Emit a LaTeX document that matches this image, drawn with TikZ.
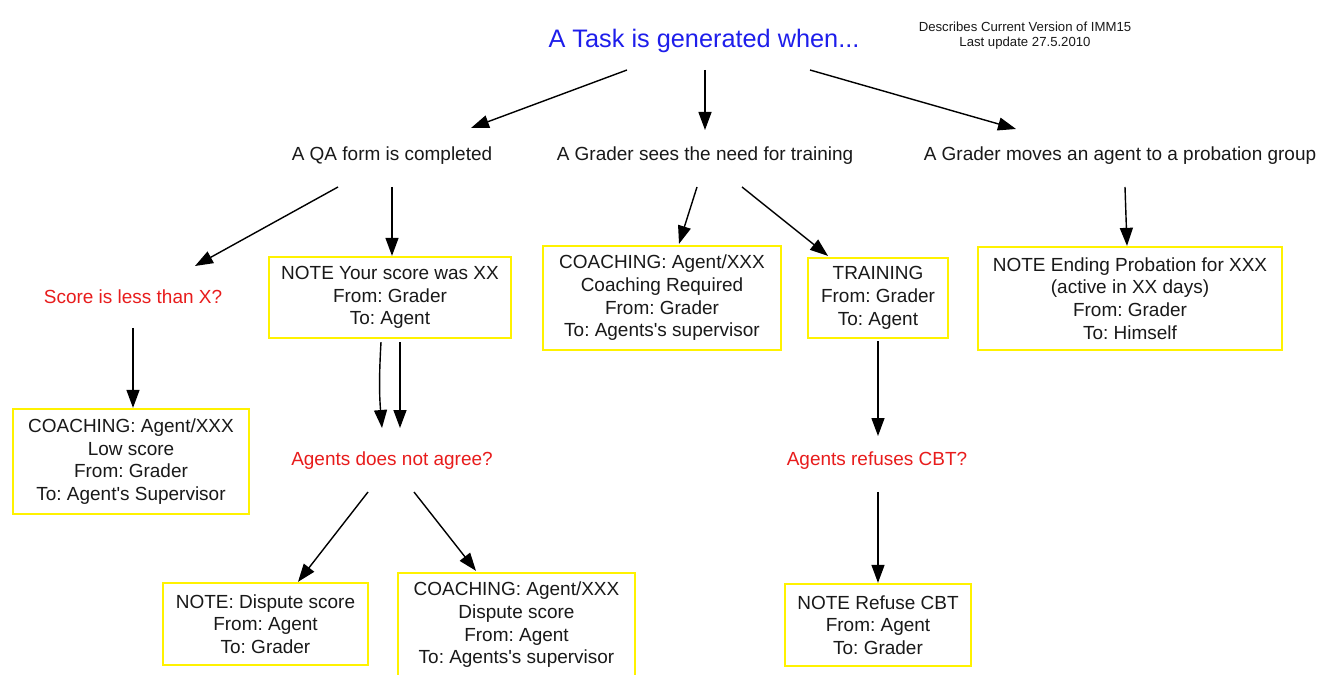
\documentclass[tikz,border=0pt]{standalone}
\usepackage{fontspec}
\setmainfont{Liberation Sans}
\usepackage{xcolor}
\usetikzlibrary{arrows.meta,calc}
\definecolor{qblue}{RGB}{30,30,235}
\definecolor{qred}{RGB}{232,28,28}
\definecolor{qyellow}{RGB}{255,242,0}
\frenchspacing

\begin{document}
\begin{tikzpicture}[x=0.02cm, y=-0.02cm, >={Triangle[length=0.36cm, width=0.26cm]},
  lbl/.style={font=\fontsize{10.8}{12.9}\selectfont, text=black!90, inner sep=1pt},
  qn/.style={lbl, text=qred},
  box/.style={rectangle, draw=qyellow, line width=1.3pt, fill=white, align=center, inner sep=2pt, text=black!90, font=\fontsize{10.8}{12.9}\selectfont},
  arr/.style={->, line width=0.8pt, black}]
\useasboundingbox[fill=white] (0,0) rectangle (1340,675);

\node[text=qblue, font=\fontsize{14.4}{17}\selectfont] (title) at (704,41) {A Task is generated when...};
\node[align=center, font=\fontsize{7.5}{8.6}\selectfont, text=black!90] (info) at (1025,36) {Describes Current Version of IMM15\\Last update 27.5.2010};

\node[lbl] (qa) at (392,156) {A QA form is completed};
\node[lbl] (grader) at (705,156) {A Grader sees the need for training};
\node[lbl] (prob) at (1120,156) {A Grader moves an agent to a probation group};

\node[qn] (score) at (133,297) {Score is less than X?};
\node[box, minimum width=4.84cm, minimum height=1.62cm] (note) at (390,297.5) {NOTE Your score was XX\\From: Grader\\To: Agent};
\node[box, minimum width=4.76cm, minimum height=2.08cm] (coach) at (662,298) {COACHING: Agent/XXX\\Coaching Required\\From: Grader\\To: Agents\textquotesingle s supervisor};
\node[box, minimum width=2.8cm, minimum height=1.6cm] (train) at (878,298) {TRAINING\\From: Grader\\To: Agent};
\node[box, minimum width=6.08cm, minimum height=2.06cm] (ending) at (1130,298.5) {NOTE Ending Probation for XXX\\(active in XX days)\\From: Grader\\To: Himself};

\node[box, minimum width=4.72cm, minimum height=2.1cm] (low) at (131,461.5) {COACHING: Agent/XXX\\Low score\\From: Grader\\To: Agent\textquotesingle s Supervisor};
\node[qn] (disagree) at (392,461) {Agents does not agree?};
\node[qn] (refuse) at (877,461) {Agents refuses CBT?};

\node[box, minimum width=4.1cm, minimum height=1.64cm] (dispn) at (265.5,624) {NOTE: Dispute score\\From: Agent\\To: Grader};
\node[box, minimum width=4.74cm, minimum height=2.08cm] (coachd) at (516.5,625) {COACHING: Agent/XXX\\Dispute score\\From: Agent\\To: Agents\textquotesingle s supervisor};
\node[box, minimum width=3.72cm, minimum height=1.64cm] (cbt) at (878,625) {NOTE Refuse CBT\\From: Agent\\To: Grader};

\draw[arr] ($(title)+(-77,29)$) -- ($(qa)+(79,-28)$);
\draw[arr] ($(title)+(1,29)$) -- ($(grader)+(0,-26)$);
\draw[arr] ($(title)+(106,29)$) -- ($(prob)+(-104,-27)$);

\draw[arr] ($(qa)+(-54,31)$) -- ($(score)+(62,-31)$);
\draw[arr] ($(qa)+(0,31)$) -- ($(note.north)+(2,0)$);
\draw[arr] ($(grader)+(-8,31)$) -- ($(coach.north)+(17,-1)$);
\draw[arr] ($(grader)+(37,31)$) -- ($(train.north)+(-50,-1)$);
\draw[arr] ($(prob)+(5,31)$) -- ($(ending.north)+(-3,0)$);

\draw[arr] ($(score)+(0,31)$) -- ($(low.north)+(2,0)$);
\draw[arr] ($(note.south)+(-9,3)$) to[bend right=4] ($(disagree)+(-10,-33)$);
\draw[arr] ($(note.south)+(10,3)$) -- ($(disagree)+(8,-33)$);
\draw[arr] ($(train.south)+(0,2)$) -- ($(refuse)+(1,-25)$);

\draw[arr] ($(disagree)+(-24,31)$) -- ($(dispn.north)+(32.5,0)$);
\draw[arr] ($(disagree)+(22,31)$) -- ($(coachd.north)+(-40.5,-1)$);
\draw[arr] ($(refuse)+(1,31)$) -- (cbt.north);
\end{tikzpicture}
\end{document}
